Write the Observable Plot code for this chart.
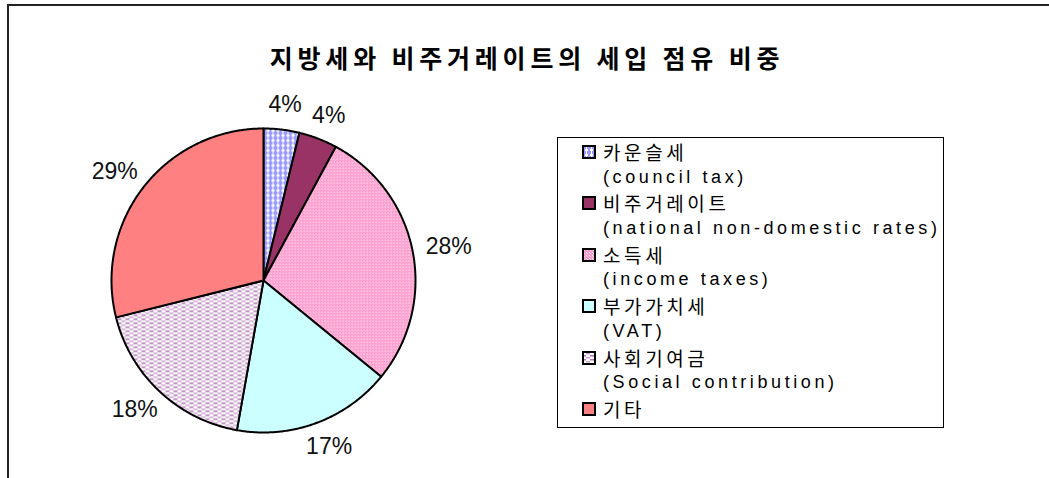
<!DOCTYPE html>
<html><head><meta charset="utf-8">
<script src="https://cdn.jsdelivr.net/npm/d3@7"></script>
<script src="https://cdn.jsdelivr.net/npm/@observablehq/plot@0.6"></script>
<style>
html,body{margin:0;padding:0;background:#fff;width:1049px;height:478px;overflow:hidden;position:relative;}
#frame{position:absolute;left:7px;top:4px;width:1200px;height:600px;border-left:2px solid #222;border-top:2px solid #222;}
#title{position:absolute;left:0;width:1054px;top:39px;text-align:center;font-family:"Noto Sans CJK KR",sans-serif;font-weight:bold;font-size:25px;letter-spacing:4.8px;line-height:36px;color:#000;}
#pie{position:absolute;left:53px;top:70px;}
#legend{position:absolute;left:557px;top:137px;width:385px;height:289px;border:1px solid #000;}
#legrows{position:absolute;left:582px;top:139px;}
.row{height:25.7px;line-height:25.7px;white-space:nowrap;position:relative;}
.ko{font-family:"Noto Sans CJK KR",sans-serif;font-size:19px;letter-spacing:3.6px;padding-left:21px;}
.en{font-family:"Liberation Sans","Noto Sans CJK KR",sans-serif;font-size:18px;letter-spacing:3.6px;padding-left:21px;}
.sw{position:absolute;left:0;top:6px;}
</style></head>
<body>
<svg width="0" height="0" style="position:absolute">
<defs>
<pattern id="pCouncil" width="5" height="5" patternUnits="userSpaceOnUse">
<rect width="5" height="5" fill="#fff"/><rect x="0" y="1" width="4" height="3" fill="#9999ff"/><rect x="1" y="0" width="2" height="5" fill="#9999ff"/>
</pattern>
<pattern id="pIncome" width="3" height="3" patternUnits="userSpaceOnUse">
<rect width="3" height="3" fill="#ff99cc"/><rect x="1" y="1" width="1" height="1" fill="#fff"/><rect x="2" y="2" width="1" height="1" fill="#ffd6ea"/>
</pattern>
<pattern id="pSocial" width="8" height="4" patternUnits="userSpaceOnUse">
<rect width="8" height="4" fill="#fff"/><rect x="0" y="0" width="4" height="1.5" fill="#b070b0"/><rect x="4" y="2" width="4" height="1.5" fill="#c9a0d0"/>
</pattern>
</defs>
</svg>
<div id="frame"></div>
<div id="title">지방세와 비주거레이트의 세입 점유 비중</div>
<div id="pie"></div>
<div id="legend"></div>
<div id="legrows"></div>
<script>
const categories = ["카운슬세","비주거레이트","소득세","부가가치세","사회기여금","기타"];
const englishNames = ["(council tax)","(national non-domestic rates)","(income taxes)","(VAT)","(Social contribution)",""];
const shares = [3.8,4.1,28.0,16.9,18.3,28.9];
const pctLabels = ["4%","4%","28%","17%","18%","29%"];
const fills = ["url(#pCouncil)","#993366","url(#pIncome)","#ccffff","url(#pSocial)","#ff8080"];

const R = 152; // pixels per data unit (pie radius)
const total = d3.sum(shares);
const slices = [];
const labelPts = [];
let acc = 0;
shares.forEach((v,i)=>{
  const a0 = acc/total*2*Math.PI, a1 = (acc+v)/total*2*Math.PI;
  acc += v;
  slices.push({cat:categories[i], x:0, y:0});
  const n = Math.max(2, Math.ceil((a1-a0)/(Math.PI/360)));
  for(let k=0;k<=n;k++){
    const a = a0+(a1-a0)*k/n;
    slices.push({cat:categories[i], x:Math.sin(a), y:Math.cos(a)});
  }
  const am = (a0+a1)/2;
  const s = Math.sin(am), c = Math.cos(am);
  const w = pctLabels[i].length*14.5, h = 20;
  const rr = 1 + 15/R;
  labelPts.push({label:pctLabels[i], x:rr*s + (w/2)*s/R, y:rr*c + (h/2)*c/R});
});

const half = 210/R;
const plot = Plot.plot({
  width:420, height:420, margin:0,
  x:{domain:[-half,half], axis:null},
  y:{domain:[-half,half], axis:null},
  color:{domain:categories, range:fills},
  marks:[
    Plot.line(slices,{x:"x",y:"y",z:"cat",fill:"cat",stroke:"#000",strokeWidth:2,curve:"linear-closed",strokeLinejoin:"round"}),
    Plot.text(labelPts,{x:"x",y:"y",text:"label",fontSize:23,fill:"#111",fontFamily:"Liberation Sans, Arial, sans-serif",letterSpacing:-0.5})
  ]
});
document.getElementById("pie").appendChild(plot);

const rows = document.getElementById("legrows");
categories.forEach((c,i)=>{
  const r = document.createElement("div");
  r.className="row ko";
  r.innerHTML = `<svg class="sw" width="14" height="14"><rect x="1" y="1" width="12" height="12" fill="${fills[i]}" stroke="#000" stroke-width="2"/></svg>${c}`;
  rows.appendChild(r);
  if(englishNames[i]){
    const e = document.createElement("div");
    e.className="row en";
    e.textContent = englishNames[i];
    rows.appendChild(e);
  }
});
</script>
</body></html>
